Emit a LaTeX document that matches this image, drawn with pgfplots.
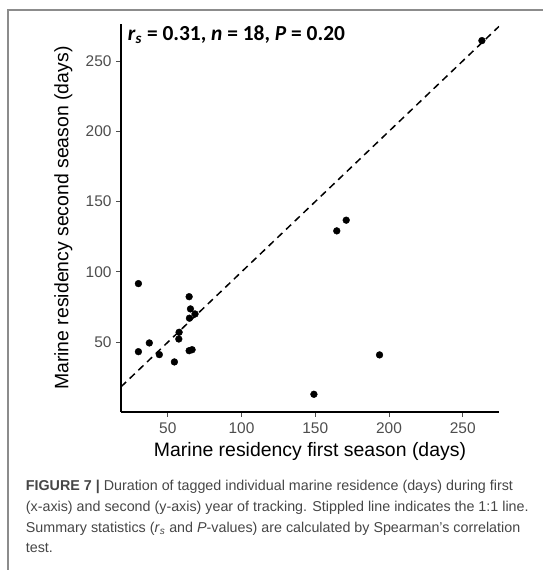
\documentclass[border=0pt]{standalone}
\usepackage{pgfplots}
\pgfplotsset{compat=1.18}
\usepackage{fontspec}
\setmainfont{Liberation Sans}
\newfontfamily\calib{Carlito}
\definecolor{tickgray}{RGB}{77,77,77}
\definecolor{capgray}{RGB}{70,70,70}
\definecolor{framegray}{RGB}{140,140,140}

\pgfplotstableread{
x y
30.1 91.7
64.5 82.4
65.4 73.7
68.5 70.1
64.7 67.1
57.7 57.1
57.5 52.3
37.5 49.5
30.1 43.3
44.3 41.2
64.5 44.0
66.5 44.7
54.5 36.0
164.6 129.2
171.0 136.8
193.6 41.0
149.1 13.0
263.0 264.5
}\residency

\begin{document}
\begin{tikzpicture}[x=1bp,y=1bp]
\useasboundingbox (0,0) rectangle (543,570);
\draw[framegray, line width=1.2bp] (8,-1) -- (8,560) -- (544,560);
\begin{axis}[
 at={(121bp,158bp)}, anchor=south west,
 scale only axis, width=378bp, height=387.7bp,
 xmin=18.3, xmax=274.6, ymin=0.4, ymax=276.1,
 axis x line*=bottom, axis y line*=left,
 axis line style={line width=1.3bp, -},
 xtick={50,100,...,250}, ytick={50,100,...,250},
 tick align=outside, major tick length=5bp,
 tick style={line width=0.9bp, color=tickgray},
 /pgf/number format/assume math mode=true,
 tick label style={font=\fontsize{15.5}{18}\selectfont, text=tickgray},
 xticklabel style={anchor=north, inner sep=0pt, yshift=-5.3bp},
 yticklabel style={anchor=east, inner sep=0pt, xshift=-4.3bp},
 xlabel={Marine residency first season (days)},
 ylabel={Marine residency second season (days)},
 label style={font=\fontsize{19.5}{22}\selectfont},
 xlabel style={at={(rel axis cs:0.5,-0.1153)}, anchor=base},
 ylabel style={at={(rel axis cs:-0.1394,0.5)}, anchor=base},
 clip=true,
]
\addplot[black, line width=1.5bp, dash pattern=on 7bp off 5bp] coordinates {(18.3,18.3) (274.6,274.6)};
\addplot[only marks, mark=*, mark size=3.4bp, black] table[x=x,y=y] {\residency};
\end{axis}
\node[anchor=base west, inner sep=0pt] at (127.7,529.3) {\calib\bfseries\fontsize{21.5}{24}\selectfont \textit{r}\textsubscript{\textit{s}} = 0.31, \textit{n} = 18, \textit{P} = 0.20};
\begin{scope}[every node/.style={anchor=base west, inner sep=0pt, text=capgray, font=\fontsize{14.35}{17}\selectfont}]
\node at (25.7,79.3) {\textbf{FIGURE 7 |} Duration of tagged individual marine residence (days) during first};
\node at (25.7,58.3) {(x-axis) and second (y-axis) year of tracking. Stippled line indicates the 1:1 line.};
\node at (25.7,37.7) {Summary statistics (\textit{r}\textsubscript{\textit{s}} and \textit{P}-values) are calculated by Spearman’s correlation};
\node at (25.7,17.3) {test.};
\end{scope}
\end{tikzpicture}
\end{document}
